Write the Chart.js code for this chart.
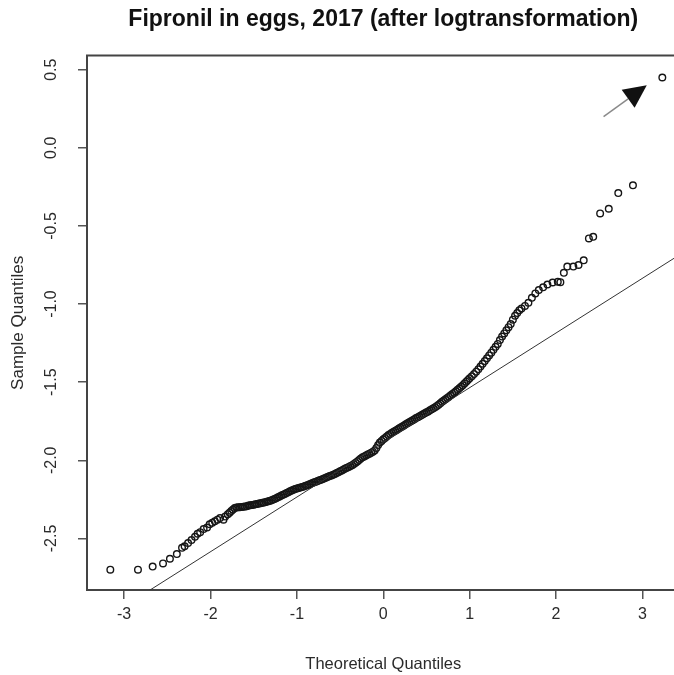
<!DOCTYPE html>
<html>
<head>
<meta charset="utf-8">
<script src="https://cdn.jsdelivr.net/npm/chart.js@4.4.1/dist/chart.umd.min.js"></script>
<style>
  html, body { margin: 0; padding: 0; background: #fff; overflow: hidden; }
  /* etwas breiter als das Fenster: der rechte Rahmen liegt wie im Original ausserhalb */
  #wrap { width: 685px; height: 675px; }
</style>
</head>
<body>
<div id="wrap"><canvas id="qq"></canvas></div>
<script>
// --------------------------------------------------------------------
// Daten
// --------------------------------------------------------------------
// unteres Ende
const theoLow = [
  -3.16, -2.84, -2.67, -2.55, -2.47, -2.39, -2.33, -2.30, -2.26, -2.22,
  -2.18, -2.15, -2.12, -2.08, -2.04, -2.01, -1.98, -1.95, -1.92, -1.89,
  -1.85, -1.83
];
const sampLow = [
  -2.70, -2.70, -2.68, -2.66, -2.63, -2.60, -2.56, -2.55, -2.53, -2.51,
  -2.49, -2.47, -2.46, -2.44, -2.43, -2.41, -2.40, -2.39, -2.38, -2.37,
  -2.38, -2.36
];

// dichter Mittelteil
const theoBody = [
  -1.80, -1.78, -1.76, -1.74, -1.72, -1.70, -1.68, -1.66, -1.64, -1.62,
  -1.60, -1.58, -1.56, -1.54, -1.52, -1.50, -1.48, -1.46, -1.44, -1.42,
  -1.40, -1.38, -1.36, -1.34, -1.32, -1.30, -1.28, -1.26, -1.24, -1.22,
  -1.20, -1.18, -1.16, -1.14, -1.12, -1.10, -1.08, -1.06, -1.04, -1.02,
  -1.00, -0.98, -0.96, -0.94, -0.92, -0.90, -0.88, -0.86, -0.84, -0.82,
  -0.80, -0.78, -0.76, -0.74, -0.72, -0.70, -0.68, -0.66, -0.64, -0.62,
  -0.60, -0.58, -0.56, -0.54, -0.52, -0.50, -0.48, -0.46, -0.44, -0.42,
  -0.40, -0.38, -0.36, -0.34, -0.32, -0.30, -0.28, -0.26, -0.24, -0.22,
  -0.20, -0.18, -0.16, -0.14, -0.12, -0.10, -0.08, -0.06, -0.04, -0.02,
  0.00, 0.02, 0.04, 0.06, 0.08, 0.10, 0.12, 0.14, 0.16, 0.18,
  0.20, 0.22, 0.24, 0.26, 0.28, 0.30, 0.32, 0.34, 0.36, 0.38,
  0.40, 0.42, 0.44, 0.46, 0.48, 0.50, 0.52, 0.54, 0.56, 0.58,
  0.60, 0.62, 0.64, 0.66, 0.68, 0.70, 0.72, 0.74, 0.76, 0.78,
  0.80, 0.82, 0.84, 0.86, 0.88, 0.90, 0.92, 0.94, 0.96, 0.98,
  1.00
];
const sampBody = [
  -2.345, -2.335, -2.325, -2.315, -2.306, -2.302, -2.300, -2.300, -2.299, -2.297,
  -2.296, -2.294, -2.290, -2.288, -2.286, -2.284, -2.282, -2.279, -2.277, -2.275,
  -2.272, -2.270, -2.267, -2.263, -2.260, -2.257, -2.252, -2.248, -2.243, -2.237,
  -2.232, -2.226, -2.220, -2.215, -2.210, -2.204, -2.198, -2.193, -2.188, -2.184,
  -2.181, -2.178, -2.174, -2.171, -2.167, -2.163, -2.159, -2.155, -2.150, -2.145,
  -2.141, -2.137, -2.132, -2.128, -2.124, -2.119, -2.115, -2.110, -2.106, -2.101,
  -2.097, -2.092, -2.087, -2.082, -2.076, -2.070, -2.065, -2.059, -2.053, -2.048,
  -2.043, -2.037, -2.031, -2.024, -2.016, -2.007, -1.998, -1.989, -1.980, -1.975,
  -1.969, -1.963, -1.958, -1.952, -1.946, -1.937, -1.922, -1.902, -1.886, -1.876,
  -1.866, -1.857, -1.847, -1.838, -1.831, -1.824, -1.818, -1.811, -1.804, -1.797,
  -1.790, -1.784, -1.777, -1.770, -1.763, -1.756, -1.750, -1.743, -1.737, -1.730,
  -1.724, -1.718, -1.711, -1.705, -1.699, -1.693, -1.687, -1.680, -1.673, -1.667,
  -1.660, -1.652, -1.644, -1.635, -1.626, -1.618, -1.610, -1.601, -1.593, -1.584,
  -1.575, -1.567, -1.558, -1.549, -1.539, -1.530, -1.519, -1.508, -1.497, -1.486,
  -1.475
];

// Übergang und oberes Ende
const theoHigh = [
  1.025, 1.05, 1.075, 1.10, 1.125, 1.15, 1.175, 1.20, 1.225, 1.25,
  1.275, 1.30, 1.325, 1.35, 1.375, 1.40, 1.425, 1.45, 1.475, 1.50,
  1.525, 1.55, 1.575, 1.60, 1.64, 1.68, 1.72, 1.76, 1.80, 1.85,
  1.90, 1.96, 2.02, 2.05, 2.09, 2.13, 2.20, 2.26, 2.32, 2.38,
  2.43, 2.51, 2.61, 2.72, 2.89, 3.23
];
const sampHigh = [
  -1.462, -1.448, -1.433, -1.418, -1.400, -1.382, -1.365, -1.347, -1.329, -1.311,
  -1.293, -1.274, -1.255, -1.230, -1.208, -1.188, -1.168, -1.148, -1.128, -1.100,
  -1.075, -1.058, -1.040, -1.028, -1.012, -0.992, -0.960, -0.932, -0.910, -0.893,
  -0.875, -0.862, -0.858, -0.860, -0.80, -0.76, -0.76, -0.75, -0.72, -0.58,
  -0.57, -0.42, -0.39, -0.29, -0.24, 0.45
];

// qqline
const qqlineIntercept = -1.885;
const qqlineSlope = 0.350;
const qqlineX = [-3.6, 3.6];

// Pfeil (Anmerkung)
const arrowFrom = [2.55, 0.20];
const arrowTo = [3.05, 0.40];

const xTicks = [-3, -2, -1, 0, 1, 2, 3];
const yTicks = [-2.5, -2.0, -1.5, -1.0, -0.5, 0.0, 0.5];

const FONT = "'Liberation Sans', Arial, sans-serif";
const INK = "#2b2b2b";

// --------------------------------------------------------------------
// Plugins: oberer Rahmen + Pfeil
// --------------------------------------------------------------------
const frameTop = {
  id: "frameTop",
  afterDraw(chart) {
    const { ctx, chartArea } = chart;
    ctx.save();
    ctx.strokeStyle = "#444";
    ctx.lineWidth = 2;
    ctx.beginPath();
    ctx.moveTo(chartArea.left - 1, chartArea.top);
    ctx.lineTo(chartArea.right + 2, chartArea.top);
    ctx.stroke();
    ctx.restore();
  }
};

const arrowPlugin = {
  id: "arrowPlugin",
  afterDatasetsDraw(chart) {
    const { ctx, scales } = chart;
    const x0 = scales.x.getPixelForValue(arrowFrom[0]);
    const y0 = scales.y.getPixelForValue(arrowFrom[1]);
    const x1 = scales.x.getPixelForValue(arrowTo[0]);
    const y1 = scales.y.getPixelForValue(arrowTo[1]);
    const ang = Math.atan2(y1 - y0, x1 - x0);
    const headLen = 23, headHalf = 11;
    const bx = x1 - headLen * Math.cos(ang);
    const by = y1 - headLen * Math.sin(ang);
    ctx.save();
    ctx.strokeStyle = "#8a8a8a";
    ctx.lineWidth = 1.5;
    ctx.beginPath();
    ctx.moveTo(x0, y0);
    ctx.lineTo(bx, by);
    ctx.stroke();
    ctx.fillStyle = "#111";
    ctx.beginPath();
    ctx.moveTo(x1, y1);
    ctx.lineTo(bx + headHalf * Math.sin(ang), by - headHalf * Math.cos(ang));
    ctx.lineTo(bx - headHalf * Math.sin(ang), by + headHalf * Math.cos(ang));
    ctx.closePath();
    ctx.fill();
    ctx.restore();
  }
};

// --------------------------------------------------------------------
// Chart
// --------------------------------------------------------------------
const theoretical = theoLow.concat(theoBody, theoHigh);
const sample = sampLow.concat(sampBody, sampHigh);
const points = theoretical.map((x, i) => ({ x: x, y: sample[i] }));
const linePts = qqlineX.map(x => ({ x: x, y: qqlineIntercept + qqlineSlope * x }));

new Chart(document.getElementById("qq"), {
  type: "scatter",
  data: {
    datasets: [
      {
        label: "qqline",
        type: "line",
        data: linePts,
        borderColor: "#333",
        borderWidth: 1,
        pointRadius: 0,
        fill: false
      },
      {
        label: "Sample",
        data: points,
        pointStyle: "circle",
        pointRadius: 3.3,
        borderWidth: 1.4,
        borderColor: "#161616",
        backgroundColor: "rgba(0,0,0,0)"
      }
    ]
  },
  options: {
    responsive: true,
    maintainAspectRatio: false,
    animation: false,
    devicePixelRatio: 1,
    layout: { padding: { left: 0, right: 0, top: 0, bottom: 0 } },
    plugins: {
      legend: { display: false },
      tooltip: { enabled: false },
      title: {
        display: true,
        fullSize: false,
        text: "Fipronil in eggs, 2017 (after logtransformation)",
        color: "#111",
        font: { family: FONT, size: 23, weight: "bold" },
        padding: { top: 6, bottom: 22 }
      }
    },
    scales: {
      x: {
        type: "linear",
        min: -3.43,
        max: 3.43,
        afterBuildTicks: s => { s.ticks = xTicks.map(v => ({ value: v })); },
        afterFit: s => { s.height = 85; },
        grid: { drawOnChartArea: false, drawTicks: true, tickLength: 9, color: "#555", lineWidth: 1.5 },
        border: { display: true, color: "#444", width: 2 },
        ticks: {
          color: INK,
          font: { family: FONT, size: 16 },
          padding: 6,
          callback: v => String(v)
        },
        title: {
          display: true,
          text: "Theoretical Quantiles",
          color: INK,
          font: { family: FONT, size: 16.5 },
          padding: { top: 0, bottom: 1 }
        }
      },
      y: {
        type: "linear",
        min: -2.83,
        max: 0.59,
        afterBuildTicks: s => { s.ticks = yTicks.map(v => ({ value: v })); },
        afterFit: s => { s.width = 87; },
        grid: { drawOnChartArea: false, drawTicks: true, tickLength: 9, color: "#555", lineWidth: 1.5 },
        border: { display: true, color: "#444", width: 2 },
        ticks: {
          color: INK,
          font: { family: FONT, size: 16 },
          padding: 13,
          minRotation: 90,
          maxRotation: 90,
          crossAlign: "center",
          callback: v => v.toFixed(1)
        },
        title: {
          display: true,
          text: "Sample Quantiles",
          color: INK,
          font: { family: FONT, size: 17 },
          padding: { top: 8, bottom: 8 }
        }
      }
    }
  },
  plugins: [frameTop, arrowPlugin]
});
</script>
</body>
</html>
